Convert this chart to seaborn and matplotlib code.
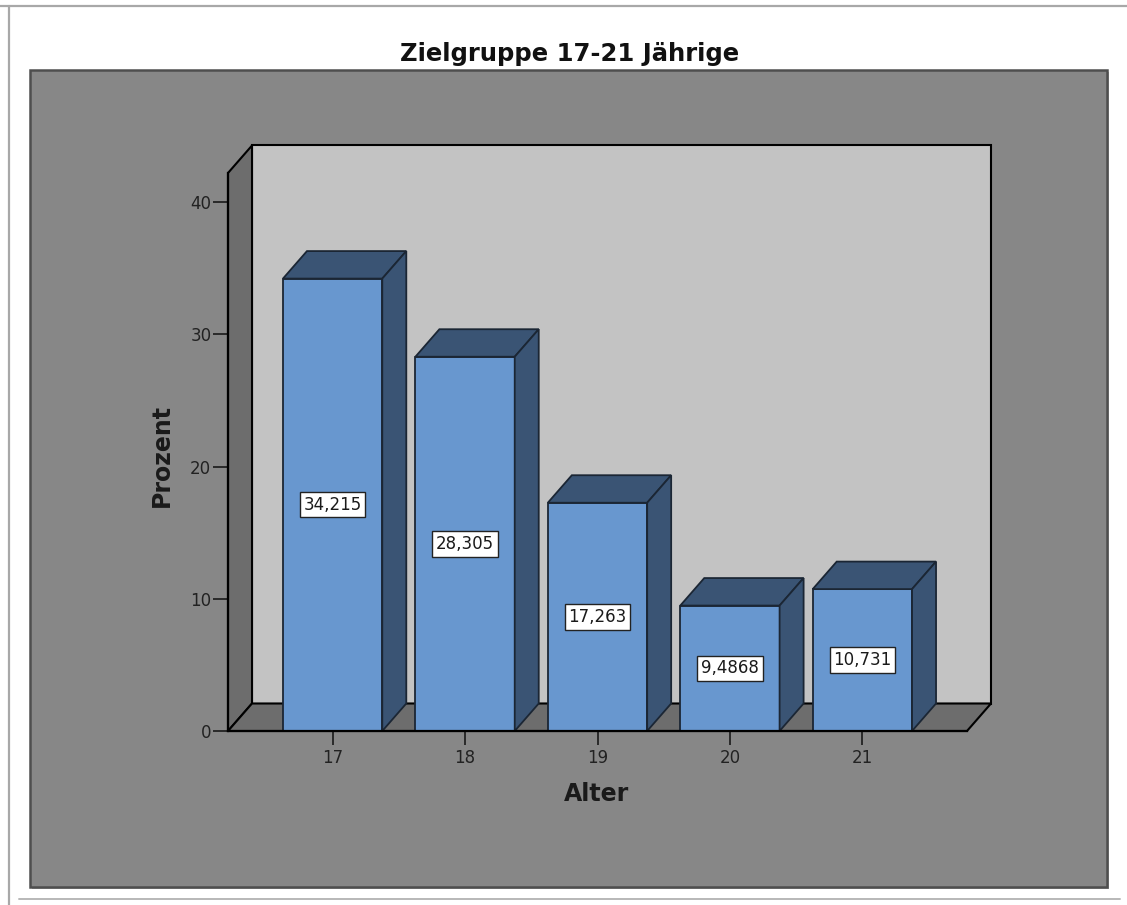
import matplotlib
matplotlib.use("Agg")
import matplotlib.pyplot as plt
from matplotlib.patches import Polygon, Rectangle
from matplotlib.lines import Line2D
import seaborn as sns
import pandas as pd

# Altersverteilung der Zielgruppe (Prozent)
alter = ["17", "18", "19", "20", "21"]
prozent = [34.215, 28.305, 17.263, 9.4868, 10.731]
y_ticks = [0, 10, 20, 30, 40]

df = pd.DataFrame({"Alter": alter, "Prozent": prozent})

sns.set_style("white")
plt.rcParams["font.family"] = ["DejaVu Sans"]

FRONT = "#6897cf"
SHADE = "#3a5474"
EDGE = "#1b2634"
BACK_WALL = "#c3c3c3"
SIDE_WALL = "#6d6d6d"
FRAME = "#878787"

W, H = 1127, 905
fig = plt.figure(figsize=(W / 100, H / 100), dpi=100)
fig.patch.set_facecolor("white")

# outer page border lines
fig.add_artist(Line2D([0, 1], [1 - 6.5 / H] * 2, color="#a8a8a8", lw=1.6,
                      transform=fig.transFigure, zorder=-3))
fig.add_artist(Line2D([9 / W] * 2, [0, 1 - 6.5 / H], color="#a8a8a8", lw=1.6,
                      transform=fig.transFigure, zorder=-3))
fig.add_artist(Line2D([19 / W, 1120 / W], [1 - 899 / H] * 2, color="#b8b8b8", lw=1.4,
                      transform=fig.transFigure, zorder=-3))

# dark grey chart frame with a soft shadow
fig.add_artist(Rectangle((32 / W, 1 - 889 / H), 1077 / W, 817 / H, transform=fig.transFigure,
                         facecolor="#b0b0b0", edgecolor="none", zorder=-2))
fig.add_artist(Rectangle((30 / W, 1 - 887 / H), 1077 / W, 817 / H, transform=fig.transFigure,
                         facecolor=FRAME, edgecolor="#4e4e4e", lw=1.8, zorder=-1))

# axes box = front plane of the 3D plot
ax_l, ax_r, ax_t, ax_b = 228, 967, 173, 731
ax = fig.add_axes([ax_l / W, 1 - ax_b / H, (ax_r - ax_l) / W, (ax_b - ax_t) / H])
ax.patch.set_visible(False)

sns.barplot(data=df, x="Alter", y="Prozent", color=FRONT, saturation=1, width=0.75,
            edgecolor=EDGE, linewidth=1.3, ax=ax, zorder=3)

xlo, xhi = -0.79, 4.79
ylo, yhi = 0, 42.2
ax.set_xlim(xlo, xhi)
ax.set_ylim(ylo, yhi)

# depth offset of the 3D projection in data units
px_x = (ax_r - ax_l) / (xhi - xlo)
px_y = (ax_b - ax_t) / (yhi - ylo)
dx = 24 / px_x
dy = 27.5 / px_y

# back wall, left wall and floor
ax.add_patch(Rectangle((xlo + dx, ylo + dy), xhi - xlo, yhi - ylo, facecolor=BACK_WALL,
                       edgecolor="black", lw=1.5, clip_on=False, zorder=0.5))
ax.add_patch(Polygon([(xlo, ylo), (xlo, yhi), (xlo + dx, yhi + dy), (xlo + dx, ylo + dy)],
                     closed=True, facecolor=SIDE_WALL, edgecolor="black", lw=1.5,
                     clip_on=False, zorder=0.6))
ax.add_patch(Polygon([(xlo, ylo), (xhi, ylo), (xhi + dx, ylo + dy), (xlo + dx, ylo + dy)],
                     closed=True, facecolor=SIDE_WALL, edgecolor="black", lw=1.5,
                     clip_on=False, zorder=0.6))

# top and side faces of each bar, plus the value labels
bars = sorted(ax.containers[0].patches, key=lambda p: p.get_x())
for p, val in zip(bars, prozent):
    x0, w, h = p.get_x(), p.get_width(), p.get_height()
    ax.add_patch(Polygon([(x0, h), (x0 + dx, h + dy), (x0 + w + dx, h + dy), (x0 + w, h)],
                         closed=True, facecolor=SHADE, edgecolor=EDGE, lw=1.3, zorder=3,
                         clip_on=False))
    ax.add_patch(Polygon([(x0 + w, ylo), (x0 + w, h), (x0 + w + dx, h + dy), (x0 + w + dx, ylo + dy)],
                         closed=True, facecolor=SHADE, edgecolor=EDGE, lw=1.3, zorder=3,
                         clip_on=False))
    label = f"{val:g}".replace(".", ",")
    ax.text(x0 + w / 2, h / 2, label, ha="center", va="center", fontsize=12, color="#1a1a1a",
            zorder=5, bbox=dict(boxstyle="square,pad=0.22", facecolor="white",
                                edgecolor="#222222", lw=1.0))

# axes styling
for side in ("top", "right"):
    ax.spines[side].set_visible(False)
for side in ("left", "bottom"):
    ax.spines[side].set_color("black")
    ax.spines[side].set_linewidth(1.6)
    ax.spines[side].set_zorder(4)

ax.set_yticks(y_ticks)
ax.tick_params(axis="y", direction="out", length=11, width=1.3, color="#222222",
               labelsize=12, labelcolor="#222222", pad=1, left=True)
ax.tick_params(axis="x", direction="out", length=10, width=1.3, color="#222222",
               labelsize=12, labelcolor="#222222", pad=3, bottom=True)
ax.set_xlabel("")
ax.set_ylabel("")

fig.text(162 / W, 1 - 455 / H, "Prozent", rotation=90, ha="center", va="center",
         fontsize=17, fontweight="bold", color="#1a1a1a")
fig.text(597 / W, 1 - 794 / H, "Alter", ha="center", va="center",
         fontsize=17, fontweight="bold", color="#1a1a1a")
fig.text(570 / W, 1 - 54 / H, "Zielgruppe 17-21 Jährige", ha="center", va="center",
         fontsize=17.5, fontweight="bold", color="#111111")

fig.savefig("out.png", dpi=100, facecolor="white")
